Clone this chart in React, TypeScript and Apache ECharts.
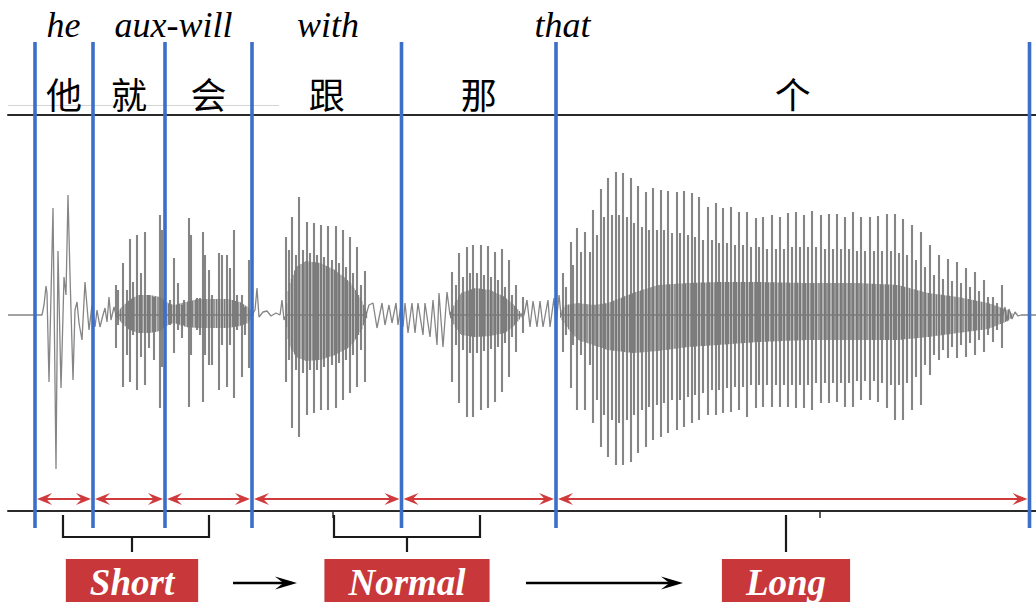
import React, { useEffect, useRef } from "react";
import * as echarts from "echarts";

// ---- segmentation (time in ms) ----
const boundaries = [27, 85, 157, 244, 393.5, 548, 1021.5];
const syllables = ["他", "就", "会", "跟", "那", "个"];
const glossLabels = ["he", "aux-will", "with", "that"];
const glossTimes = [55.5, 165.5, 320, 554.5];
const groupLabels = ["Short", "Normal", "Long"];
const groupSpans = [[55, 201], [326, 472], [778, 778]];
const groupStems = [124, 399, 778];
const transitions = [[225, 289], [518, 675]];
const timeTicks = [325, 812];

// ---- waveform (time ms, amplitude units) ----
// low-level trace (quiet parts and the aperiodic onset of 他)
const trace = [
  [0, 0], [34, 0], [36, 10], [38, 29], [39, 22], [41, -67], [45, 107], [48, -154], [50, 64], [53, -73],
  [54, -38], [56, 38], [58, 20], [60, 120], [62, 40], [65, -65], [67, 5], [69, 13], [71, -8], [74, -25],
  [77, 33], [81, -15], [84, 10], [87, -12], [89, 5], [92, -12], [95, 0], [97, 7], [99, -7], [101, 18],
  [103, -5], [106, 8], [108, 0], [244, 0], [247, 5], [249, 27], [251, -2], [255, 3], [259, 4], [263, -1],
  [268, 2], [272, 0], [274, 15], [276, -5], [278, 0], [358, 0], [361, 10], [365, 12], [369, -13], [374, 12],
  [377, -10], [381, 10], [384, -8], [388, 12], [390, -10], [393, 10], [395, -12], [397, 12], [400, -18],
  [404, 12], [407, -18], [410, 12], [415, -20], [417, 12], [422, -22], [425, 15], [429, -30], [431, 22],
  [435, -32], [439, 23], [442, 0], [516, 0], [519, 15], [522, -12], [525, 14], [529, -12], [532, 14],
  [535, -12], [540, 15], [542, -12], [546, 17], [548, -10], [551, 20], [553, 0], [995, 0], [997, 8],
  [999, -6], [1001, 6], [1004, -4], [1007, 3], [1010, -1], [1013, 0], [1028, 0],
];

// glottal pulses: [time, peak, trough]
const spikesJiuHui = [
  [108, 30, -33], [110, 25, -10], [115, 52, -72], [119, 25, -40], [122, 76, -67], [125, 33, -20],
  [129, 80, -75], [133, 42, -42], [137, 83, -70], [141, 20, -33], [146, 18, -45], [152, 100, -93],
  [154, 85, -52], [162, 15, -10], [166, 57, -38], [170, 32, -15], [174, 10, -23], [176, 15, -10],
  [181, 97, -92], [183, 80, -40], [189, 17, -15], [192, 17, -20], [195, 83, -87], [197, 60, -40],
  [201, 45, -50], [204, 20, -50], [211, 62, -75], [214, 60, -30], [219, 60, -72], [222, 47, -30],
  [226, 85, -83], [229, 20, -15], [234, 20, -62], [237, 8, -20], [241, 55, -53],
];
const spikesGen = [
  [278, 78, -67], [281, 65, -45], [284, 98, -113], [288, 60, -55], [291, 118, -122], [295, 65, -58],
  [299, 93, -100], [302, 62, -55], [306, 92, -98], [309, 60, -55], [313, 90, -95], [316, 58, -52],
  [320, 89, -95], [324, 55, -50], [328, 89, -93], [331, 52, -48], [335, 85, -85], [338, 48, -45],
  [342, 78, -78], [345, 42, -40], [349, 68, -72], [353, 30, -35], [357, 44, -67],
];
const spikesNa = [
  [444, 43, -67], [448, 30, -30], [451, 62, -88], [455, 38, -35], [459, 68, -102], [462, 42, -38],
  [465, 70, -102], [469, 42, -38], [473, 70, -95], [476, 40, -36], [480, 69, -93], [483, 38, -34],
  [487, 63, -87], [490, 35, -32], [494, 66, -77], [497, 28, -28], [501, 55, -62], [504, 20, -22],
  [508, 30, -37], [515, 18, -18],
];
const spikesGe = [
  [555, 42, -37], [558, 28, -20], [563, 73, -73], [565, 50, -30], [569, 87, -95], [573, 63, -40],
  [577, 83, -95], [582, 63, -50], [585, 105, -108], [589, 80, -85], [593, 126, -132], [596, 98, -100],
  [600, 137, -142], [604, 100, -105], [608, 143, -150], [611, 100, -108], [615, 142, -150], [619, 98, -105],
  [623, 137, -147], [626, 92, -100], [630, 129, -138], [634, 88, -95], [638, 123, -132], [641, 85, -92],
  [645, 127, -125], [649, 85, -90], [653, 125, -122], [656, 85, -88], [660, 124, -118], [664, 82, -85],
  [669, 123, -115], [672, 82, -85], [676, 124, -112], [680, 80, -82], [684, 122, -108], [687, 78, -80],
  [691, 118, -105], [695, 75, -78], [700, 108, -100], [704, 75, -75], [708, 112, -100], [711, 72, -75],
  [715, 107, -98], [719, 72, -73], [723, 108, -97], [727, 70, -72], [731, 103, -95], [735, 70, -72],
  [739, 103, -102], [743, 68, -70], [748, 97, -93], [751, 68, -70], [755, 98, -92], [759, 66, -70],
  [764, 100, -92], [768, 66, -70], [772, 98, -92], [776, 66, -70], [780, 102, -92], [784, 68, -70],
  [788, 103, -93], [792, 68, -70], [796, 100, -93], [800, 68, -70], [804, 104, -95], [808, 68, -68],
  [813, 100, -88], [817, 66, -68], [821, 101, -88], [825, 66, -68], [829, 101, -87], [833, 66, -68],
  [837, 98, -92], [841, 66, -68], [845, 103, -92], [849, 64, -66], [853, 98, -85], [857, 64, -66],
  [862, 98, -85], [866, 64, -66], [870, 99, -87], [874, 64, -68], [879, 101, -93], [883, 64, -70],
  [887, 101, -105], [891, 62, -70], [895, 96, -105], [899, 60, -68], [904, 90, -95], [908, 55, -62],
  [913, 83, -90], [917, 48, -50], [922, 70, -60], [926, 40, -40], [931, 60, -45], [935, 36, -35],
  [940, 56, -43], [944, 34, -32], [949, 53, -43], [953, 32, -30], [958, 47, -42], [962, 28, -28],
  [967, 43, -40], [971, 24, -25], [976, 35, -37], [980, 18, -20], [985, 18, -27], [989, 12, -15],
  [994, 30, -33],
];

// dense core of each voiced stretch: [time, upper, lower]
const coreJiuHui = [
  [106, 0, 0], [112, 6, -6], [120, 14, -14], [130, 20, -18], [142, 20, -18], [152, 18, -16], [160, 12, -10],
  [166, 10, -8], [178, 13, -12], [190, 16, -13], [205, 16, -13], [220, 16, -13], [232, 13, -11], [240, 8, -8], [246, 0, 0],
];
const coreGen = [
  [277, 0, 0], [281, 30, -30], [288, 48, -42], [298, 54, -46], [312, 52, -45], [327, 45, -40], [342, 33, -32], [352, 18, -18], [360, 0, 0],
];
const coreNa = [
  [441, 0, 0], [447, 12, -12], [453, 22, -20], [467, 27, -22], [482, 25, -21], [497, 18, -18], [507, 9, -10], [515, 0, 0],
];
const coreGe = [
  [551, 0, 0], [557, 10, -10], [570, 12, -25], [585, 10, -30], [600, 12, -35], [625, 22, -38], [650, 30, -36],
  [680, 32, -32], [710, 33, -30], [750, 33, -27], [800, 32, -25], [850, 32, -25], [890, 30, -25], [920, 22, -22],
  [950, 18, -18], [980, 12, -14], [1000, 5, -6], [1006, 0, 0],
];

const BLUE = "#3b6fca";
const RED = "#d13a3c";
const BOX = "#c8373a";
const WAVE = "#858585";
const CORE = "#767676";
const INK = "#1a1a1a";
const SERIF = '"Liberation Serif", "Times New Roman", serif';
const CJK = '"Noto Sans CJK SC", sans-serif';

const measureCtx = typeof document !== "undefined" ? document.createElement("canvas").getContext("2d") : null;
function textWidth(text: string, font: string) {
  if (!measureCtx) return text.length * 20;
  measureCtx.font = font;
  return measureCtx.measureText(text).width;
}

function arrowHead(xt: number, y: number, dir: number, len: number, half: number, fill: string) {
  return {
    type: "polygon",
    shape: { points: [[xt, y], [xt - dir * len, y - half], [xt - dir * len * 0.62, y], [xt - dir * len, y + half]] },
    style: { fill },
  };
}

export default function App() {
  const ref = useRef<HTMLDivElement>(null);

  useEffect(() => {
    if (!ref.current) return;
    const chart = echarts.init(ref.current, null, { renderer: "svg" });
    const coreBands = [coreJiuHui, coreGen, coreNa, coreGe];
    const spikes = [...spikesJiuHui, ...spikesGen, ...spikesNa, ...spikesGe];
    const segments = syllables.map((_, i) => [boundaries[i], boundaries[i + 1]]);
    const boxFont = `italic bold 37px ${SERIF}`;

    const axisCommon = {
      type: "value",
      min: 0,
      max: 1028,
      axisLabel: { show: false },
      splitLine: { show: false },
    };

    chart.setOption({
      animation: false,
      backgroundColor: "#ffffff",
      grid: { left: 8, right: 0, top: 115, bottom: 91, containLabel: false, outerBoundsMode: "none" },
      xAxis: [
        {
          ...axisCommon,
          position: "bottom",
          axisLine: { show: true, onZero: false, lineStyle: { color: "#2a2a2a", width: 2 } },
          axisTick: { show: true, customValues: timeTicks, length: 7, lineStyle: { color: "#2a2a2a", width: 1.5 } },
        },
        {
          ...axisCommon,
          position: "top",
          axisLine: { show: true, onZero: false, lineStyle: { color: "#2a2a2a", width: 2 } },
          axisTick: { show: false },
        },
      ],
      yAxis: { type: "value", min: -196, max: 200, show: false },
      graphic: [
        { type: "line", silent: true, shape: { x1: 8, y1: 105.5, x2: 279, y2: 105.5 }, style: { stroke: "#d4d4d4", lineWidth: 1 } },
      ],
      series: [
        {
          name: "trace",
          type: "line",
          data: trace,
          showSymbol: false,
          symbol: "none",
          silent: true,
          z: 2,
          lineStyle: { color: WAVE, width: 1.3 },
        },
        {
          name: "pulses",
          type: "custom",
          data: spikes,
          silent: true,
          clip: false,
          z: 3,
          renderItem: (params: any, api: any) => {
            const p1 = api.coord([api.value(0), api.value(1)]);
            const p2 = api.coord([api.value(0), api.value(2)]);
            return {
              type: "line",
              shape: { x1: p1[0], y1: p1[1], x2: p2[0], y2: p2[1] },
              style: { stroke: WAVE, lineWidth: 2.1 },
            };
          },
        },
        {
          name: "core",
          type: "custom",
          data: coreBands.map((b, i) => [b[0][0], 0, i]),
          silent: true,
          clip: false,
          z: 4,
          renderItem: (params: any, api: any) => {
            const band = coreBands[params.dataIndex];
            const up = band.map((d) => api.coord([d[0], d[1]]));
            const lo = band.map((d) => api.coord([d[0], d[2]]));
            const children: any[] = [];
            // draw the dense core as fine vertical strokes, like overlapping waveform cycles
            let k = 0;
            for (let x = up[0][0]; x <= up[up.length - 1][0]; x += 1.6) {
              while (k < up.length - 2 && x > up[k + 1][0]) k++;
              const span = up[k + 1][0] - up[k][0] || 1;
              const f = Math.min(1, Math.max(0, (x - up[k][0]) / span));
              const yu = up[k][1] + (up[k + 1][1] - up[k][1]) * f;
              const yl = lo[k][1] + (lo[k + 1][1] - lo[k][1]) * f;
              children.push({ type: "line", shape: { x1: x, y1: yu, x2: x, y2: yl }, style: { stroke: CORE, lineWidth: 1.1 } });
            }
            return { type: "group", children };
          },
        },
        {
          name: "boundaries",
          type: "custom",
          data: boundaries.map((b) => [b, 0]),
          silent: true,
          clip: false,
          z: 6,
          renderItem: (params: any, api: any) => {
            const cs = params.coordSys;
            const x = api.coord([api.value(0), 0])[0];
            return {
              type: "line",
              shape: { x1: x, y1: cs.y - 73, x2: x, y2: cs.y + cs.height + 17 },
              style: { stroke: BLUE, lineWidth: 3.6 },
            };
          },
        },
        {
          name: "segments",
          type: "custom",
          data: segments,
          silent: true,
          clip: false,
          z: 7,
          renderItem: (params: any, api: any) => {
            const cs = params.coordSys;
            const top = cs.y;
            const bottom = cs.y + cs.height;
            const x1 = api.coord([api.value(0), 0])[0];
            const x2 = api.coord([api.value(1), 0])[0];
            const ay = bottom - 12;
            return {
              type: "group",
              children: [
                {
                  type: "text",
                  style: {
                    text: syllables[params.dataIndex],
                    x: (x1 + x2) / 2,
                    y: top - 22,
                    align: "center",
                    verticalAlign: "middle",
                    fontSize: 36,
                    fontFamily: CJK,
                    fill: "#000",
                  },
                },
                { type: "line", shape: { x1: x1 + 5, y1: ay, x2: x2 - 5, y2: ay }, style: { stroke: RED, lineWidth: 2 } },
                arrowHead(x1 + 2, ay, -1, 15, 6, RED),
                arrowHead(x2 - 2, ay, 1, 15, 6, RED),
              ],
            };
          },
        },
        {
          name: "glosses",
          type: "custom",
          data: glossTimes.map((t) => [t, 0]),
          silent: true,
          clip: false,
          z: 7,
          renderItem: (params: any, api: any) => {
            const cs = params.coordSys;
            const x = api.coord([api.value(0), 0])[0];
            return {
              type: "text",
              style: {
                text: glossLabels[params.dataIndex],
                x,
                y: cs.y - 90,
                align: "center",
                verticalAlign: "middle",
                fontSize: 36,
                fontStyle: "italic",
                fontFamily: SERIF,
                fill: "#000",
              },
            };
          },
        },
        {
          name: "groups",
          type: "custom",
          data: groupStems.map((s) => [s, 0]),
          silent: true,
          clip: false,
          z: 7,
          renderItem: (params: any, api: any) => {
            const cs = params.coordSys;
            const bottom = cs.y + cs.height;
            const i = params.dataIndex;
            const xa = api.coord([groupSpans[i][0], 0])[0];
            const xb = api.coord([groupSpans[i][1], 0])[0];
            const xs = api.coord([api.value(0), 0])[0];
            const children: any[] = [];
            const lineStyle = { stroke: INK, lineWidth: 2.2, fill: "none" };
            if (xb - xa > 1) {
              children.push({
                type: "polyline",
                shape: { points: [[xa, bottom + 4], [xa, bottom + 26], [xb, bottom + 26], [xb, bottom + 4]] },
                style: lineStyle,
              });
              children.push({ type: "line", shape: { x1: xs, y1: bottom + 26, x2: xs, y2: bottom + 41 }, style: lineStyle });
            } else {
              children.push({ type: "line", shape: { x1: xs, y1: bottom + 4, x2: xs, y2: bottom + 41 }, style: lineStyle });
            }
            const w = textWidth(groupLabels[i], boxFont) + 48;
            children.push({ type: "rect", shape: { x: xs - w / 2, y: bottom + 48, width: w, height: 60 }, style: { fill: BOX } });
            children.push({
              type: "text",
              style: {
                text: groupLabels[i],
                x: xs,
                y: bottom + 71,
                align: "center",
                verticalAlign: "middle",
                fontSize: 37,
                fontStyle: "italic",
                fontWeight: "bold",
                fontFamily: SERIF,
                fill: "#ffffff",
              },
            });
            return { type: "group", children };
          },
        },
        {
          name: "transitions",
          type: "custom",
          data: transitions,
          silent: true,
          clip: false,
          z: 7,
          renderItem: (params: any, api: any) => {
            const cs = params.coordSys;
            const y = cs.y + cs.height + 72;
            const xa = api.coord([api.value(0), 0])[0];
            const xb = api.coord([api.value(1), 0])[0];
            return {
              type: "group",
              children: [
                { type: "line", shape: { x1: xa, y1: y, x2: xb - 10, y2: y }, style: { stroke: "#000", lineWidth: 2.5 } },
                arrowHead(xb, y, 1, 22, 6.5, "#000"),
              ],
            };
          },
        },
      ],
    });

    return () => chart.dispose();
  }, []);

  return (
    <div
      ref={ref}
      style={{ position: "fixed", left: 0, top: 0, width: 1036, height: 602, background: "#ffffff" }}
    />
  );
}
